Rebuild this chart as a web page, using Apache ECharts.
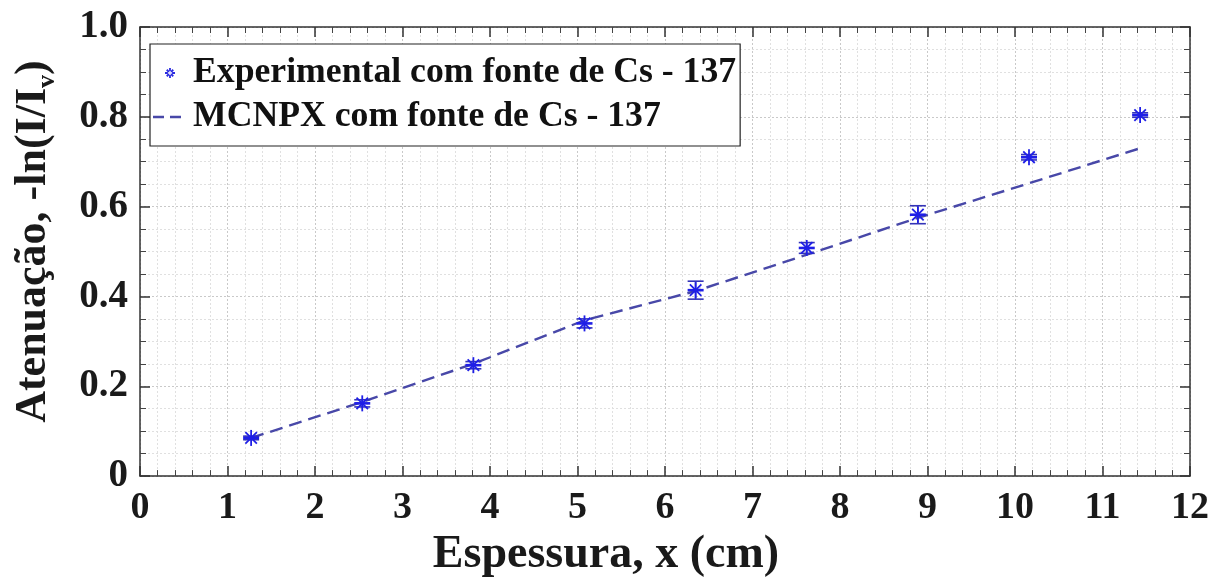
<!DOCTYPE html>
<html>
<head>
<meta charset="utf-8">
<script src="https://cdn.jsdelivr.net/npm/echarts@6/dist/echarts.min.js"></script>
<style>
html,body{margin:0;padding:0;background:#fff;}
#chart{width:1212px;height:583px;}
</style>
</head>
<body>
<div id="chart"></div>
<script>
// ---- data ----
const thickness = [1.27, 2.54, 3.81, 5.08, 6.35, 7.62, 8.89, 10.16, 11.43];
const experimental = [0.085, 0.162, 0.247, 0.340, 0.414, 0.508, 0.582, 0.710, 0.804];
const experimentalErr = [0.004, 0.008, 0.008, 0.010, 0.020, 0.012, 0.020, 0.006, 0.005];
const mcnpx = [0.085, 0.165, 0.250, 0.347, 0.412, 0.493, 0.575, 0.652, 0.730];
const xTicks = [0, 1, 2, 3, 4, 5, 6, 7, 8, 9, 10, 11, 12];
const yTicks = [0, 0.2, 0.4, 0.6, 0.8, 1.0];
const seriesNames = ['Experimental com fonte de Cs - 137', 'MCNPX com fonte de Cs - 137'];

const FONT = "'Liberation Serif','Times New Roman',serif";
const expData = thickness.map((x, i) => [x, experimental[i], experimentalErr[i]]);
const mcData = thickness.map((x, i) => [x, mcnpx[i]]);

const chart = echarts.init(document.getElementById('chart'), null, {renderer: 'canvas'});

const gridLineMajor = {show: true, lineStyle: {color: '#c9c9c9', type: [2, 2], width: 1}};
const gridLineMinor = {show: true, lineStyle: {color: '#e0e0e0', type: [2, 2], width: 1}};
const axisLine = {show: true, onZero: false, lineStyle: {color: '#333', width: 1.5}};

const starIcon = 'path://M-18,-8h0.01v0.01h-0.01z M18,8h0.01v0.01h-0.01z ' +
  'M-0.9,-5h1.8v10h-1.8z M-5,-0.9h10v1.8h-10z ' +
  'M-3.9,-2.6L2.6,3.9L3.9,2.6L-2.6,-3.9z M-3.9,2.6L-2.6,3.9L3.9,-2.6L2.6,-3.9z';
const dashIcon = 'path://M-18,-8h0.01v0.01h-0.01z M18,8h0.01v0.01h-0.01z ' +
  'M-17,-1.2h11v2.4h-11z M0,-1.2h11v2.4h-11z';

const option = {
  backgroundColor: '#fff',
  animation: false,
  grid: {left: 138, right: 22, top: 27, bottom: 106, containLabel: false},
  legend: {
    orient: 'vertical',
    left: 150, top: 44,
    padding: [9, 4, 9, 2],
    itemGap: 4,
    itemWidth: 36, itemHeight: 16,
    backgroundColor: '#fff',
    borderColor: '#222', borderWidth: 1.2,
    textStyle: {fontFamily: FONT, fontSize: 35.7, fontWeight: 'bold', color: '#111', lineHeight: 40},
    data: [
      {name: seriesNames[0], icon: starIcon, itemStyle: {color: '#2a2ae0'}},
      {name: seriesNames[1], icon: dashIcon, itemStyle: {color: '#4848a8'}}
    ]
  },
  xAxis: [{
    type: 'value', min: xTicks[0], max: xTicks[xTicks.length - 1], interval: 1,
    position: 'bottom',
    axisLine: axisLine,
    axisTick: {show: true, inside: true, length: 10, lineStyle: {color: '#333', width: 1.5}},
    minorTick: {show: true, splitNumber: 5, length: 6, lineStyle: {color: '#444', width: 1}},
    axisLabel: {show: true, margin: 13, fontFamily: FONT, fontSize: 38, fontWeight: 'bold', color: '#1a1a1a'},
    splitLine: gridLineMajor,
    minorSplitLine: gridLineMinor,
    name: 'Espessura, x (cm)',
    nameLocation: 'middle', nameGap: 54,
    nameTextStyle: {fontFamily: FONT, fontSize: 46, fontWeight: 'bold', color: '#1a1a1a', padding: [0, 118, 0, 0]}
  }, {
    type: 'value', min: xTicks[0], max: xTicks[xTicks.length - 1], interval: 1,
    position: 'top',
    axisLine: axisLine,
    axisTick: {show: true, inside: true, length: 10, lineStyle: {color: '#333', width: 1.5}},
    minorTick: {show: true, splitNumber: 5, length: 6, lineStyle: {color: '#444', width: 1}},
    axisLabel: {show: false},
    splitLine: {show: false}
  }],
  yAxis: [{
    type: 'value', min: yTicks[0], max: yTicks[yTicks.length - 1], interval: 0.2,
    position: 'left',
    axisLine: axisLine,
    axisTick: {show: true, inside: true, length: 10, lineStyle: {color: '#333', width: 1.5}},
    minorTick: {show: true, splitNumber: 4, length: 6, lineStyle: {color: '#444', width: 1}},
    axisLabel: {show: true, margin: 12, fontFamily: FONT, fontSize: 39, fontWeight: 'bold', color: '#1a1a1a',
      formatter: v => (v === 0 ? '0' : v.toFixed(1))},
    splitLine: gridLineMajor,
    minorSplitLine: gridLineMinor,
    name: 'Atenuação, -ln(I/I{sub|v})',
    nameLocation: 'middle', nameRotate: 90, nameGap: 80,
    nameTextStyle: {fontFamily: FONT, fontSize: 44, fontWeight: 'bold', color: '#1a1a1a', lineHeight: 52,
      padding: [0, 0, 0, 20],
      rich: {sub: {fontFamily: FONT, fontSize: 26, fontWeight: 'bold', color: '#1a1a1a', verticalAlign: 'bottom', lineHeight: 52}}}
  }, {
    type: 'value', min: yTicks[0], max: yTicks[yTicks.length - 1], interval: 0.2,
    position: 'right',
    axisLine: axisLine,
    axisTick: {show: true, inside: true, length: 10, lineStyle: {color: '#333', width: 1.5}},
    minorTick: {show: true, splitNumber: 4, length: 6, lineStyle: {color: '#444', width: 1}},
    axisLabel: {show: false},
    splitLine: {show: false}
  }],
  series: [{
    name: seriesNames[0],
    type: 'custom',
    xAxisIndex: 0, yAxisIndex: 0,
    z: 5,
    itemStyle: {color: '#2a2ae0'},
    data: expData,
    renderItem: function (params, api) {
      const x = api.value(0), y = api.value(1), e = api.value(2);
      const c = api.coord([x, y]);
      const hi = api.coord([x, y + e]);
      const lo = api.coord([x, y - e]);
      const cap = 8, r = 8, d = r * 0.72;
      const barStyle = {stroke: '#3434b8', lineWidth: 1.6};
      const starStyle = {stroke: '#1f1fe6', lineWidth: 1.8};
      const seg = (x1, y1, x2, y2, s) => ({type: 'line', shape: {x1, y1, x2, y2}, style: s});
      return {
        type: 'group',
        children: [
          seg(c[0], hi[1], c[0], lo[1], barStyle),
          seg(c[0] - cap, hi[1], c[0] + cap, hi[1], barStyle),
          seg(c[0] - cap, lo[1], c[0] + cap, lo[1], barStyle),
          seg(c[0], c[1] - r, c[0], c[1] + r, starStyle),
          seg(c[0] - r, c[1], c[0] + r, c[1], Object.assign({}, starStyle, {lineWidth: 2.6})),
          seg(c[0] - d, c[1] - d, c[0] + d, c[1] + d, starStyle),
          seg(c[0] - d, c[1] + d, c[0] + d, c[1] - d, starStyle)
        ]
      };
    }
  }, {
    name: seriesNames[1],
    type: 'line',
    xAxisIndex: 0, yAxisIndex: 0,
    z: 4,
    data: mcData,
    showSymbol: false,
    symbol: 'none',
    color: '#4848a8',
    lineStyle: {color: '#4848a8', width: 2.4, type: [13, 7]}
  }]
};
chart.setOption(option);
</script>
</body>
</html>
